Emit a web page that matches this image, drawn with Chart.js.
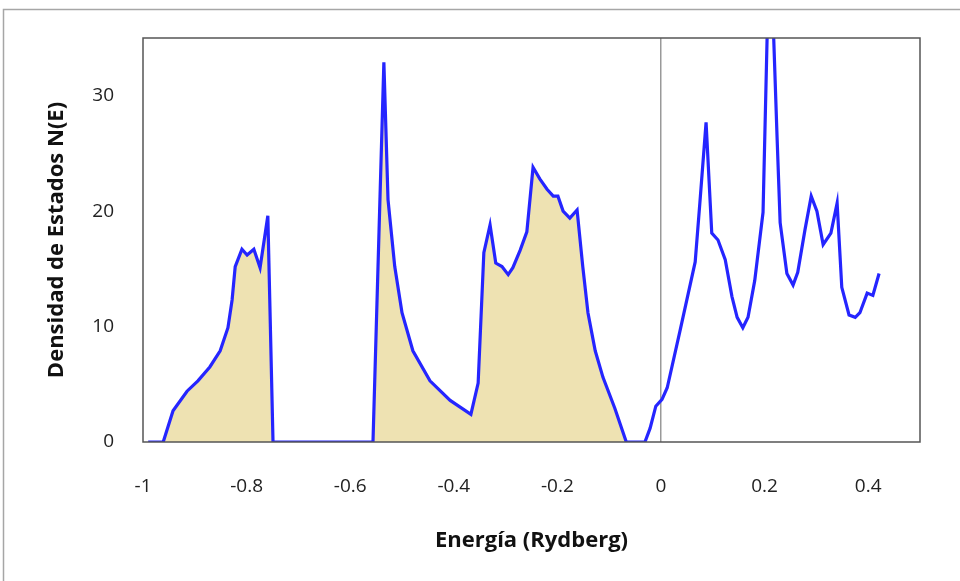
<!DOCTYPE html>
<html lang="es">
<head>
    <meta charset="UTF-8">
    <title>Densidad de Estados</title>
    <script src="https://cdn.jsdelivr.net/npm/chart.js@4.4.0/dist/chart.umd.min.js"></script>
    <style>
        html, body { margin: 0; padding: 0; background: #fff; }
        #wrap { width: 960px; height: 581px; }
    </style>
</head>
<body>
    <div id="wrap"><canvas id="dosChart" width="960" height="581"></canvas></div>

    <script>
    // energia (Rydberg) y densidad de estados
    var energia = [
        -0.990, -0.961, -0.942, -0.915, -0.894, -0.871, -0.851, -0.836, -0.828, -0.822,
        -0.809, -0.799, -0.786, -0.774, -0.759, -0.749, -0.556, -0.535, -0.527, -0.514,
        -0.500, -0.479, -0.446, -0.407, -0.367, -0.353, -0.342, -0.330, -0.319, -0.307,
        -0.295, -0.286, -0.272, -0.259, -0.247, -0.234, -0.220, -0.208, -0.199, -0.189,
        -0.176, -0.162, -0.151, -0.141, -0.127, -0.112, -0.089, -0.067, -0.031, -0.021,
        -0.010, 0.002, 0.012, 0.037, 0.066, 0.075, 0.087, 0.098, 0.110, 0.124,
        0.137, 0.147, 0.158, 0.168, 0.181, 0.197, 0.210, 0.224, 0.230, 0.243,
        0.255, 0.264, 0.278, 0.290, 0.301, 0.313, 0.328, 0.340, 0.349, 0.363,
        0.375, 0.384, 0.398, 0.409, 0.421
    ];
    var densidad = [
        0, 0, 2.7, 4.4, 5.3, 6.5, 7.9, 9.9, 12.3, 15.2,
        16.7, 16.2, 16.7, 15.1, 19.6, 0, 0, 32.9, 21.0, 15.2,
        11.2, 7.9, 5.3, 3.6, 2.4, 5.1, 16.4, 18.8, 15.5, 15.2,
        14.5, 15.1, 16.6, 18.2, 23.8, 22.8, 21.9, 21.3, 21.3, 20.0,
        19.4, 20.1, 15.2, 11.2, 7.9, 5.6, 2.9, 0, 0, 1.2,
        3.1, 3.7, 4.7, 9.7, 15.6, 20.7, 27.7, 18.1, 17.5, 15.8,
        12.6, 10.8, 9.9, 10.8, 14.0, 19.9, 45, 26.5, 19.0, 14.6,
        13.6, 14.7, 18.4, 21.3, 20.0, 17.1, 18.1, 20.7, 13.4, 11.0,
        10.8, 11.2, 12.9, 12.7, 14.6
    ];
    var xTicks = [-1, -0.8, -0.6, -0.4, -0.2, 0, 0.2, 0.4];
    var yTicks = [0, 10, 20, 30];

    var puntos = [];
    for (var i = 0; i < energia.length; i++) {
        puntos.push({x: energia[i], y: densidad[i]});
    }
    // zona ocupada (bandas de valencia) rellena
    var ocupados = puntos.filter(function (p) { return p.x < -0.025; });

    // marcos: borde exterior y borde del area de trazado
    var marcos = {
        id: 'marcos',
        beforeDraw: function (chart) {
            var c = chart.ctx;
            c.save();
            c.fillStyle = '#fff';
            c.fillRect(0, 0, chart.width, chart.height);
            c.strokeStyle = '#a6a6a6';
            c.lineWidth = 1.5;
            c.strokeRect(3.5, 9.5, 1000, 1000);
            c.restore();
        },
        afterDraw: function (chart) {
            var a = chart.chartArea;
            var c = chart.ctx;
            c.save();
            c.strokeStyle = '#555';
            c.lineWidth = 1.5;
            c.strokeRect(a.left, a.top, a.right - a.left, a.bottom - a.top);
            c.restore();
        }
    };

    var fuenteTicks = {family: 'Open Sans', size: 19};
    var fuenteTitulo = {family: 'Open Sans', size: 22, weight: 'bold'};

    new Chart(document.querySelector('#dosChart'), {
        type: 'line',
        data: {
            datasets: [{
                data: puntos,
                borderColor: '#2525ff',
                borderWidth: 3.2,
                pointRadius: 0,
                fill: false,
                tension: 0,
                order: 0
            }, {
                data: ocupados,
                borderWidth: 0,
                borderColor: 'rgba(0,0,0,0)',
                backgroundColor: '#eee2b2',
                pointRadius: 0,
                fill: 'origin',
                tension: 0,
                order: 1
            }]
        },
        options: {
            responsive: false,
            animation: false,
            layout: {padding: {left: 0, right: 40, top: 38, bottom: 0}},
            plugins: {legend: {display: false}, tooltip: {enabled: false}},
            scales: {
                x: {
                    type: 'linear',
                    min: -1,
                    max: 0.5,
                    afterBuildTicks: function (s) {
                        s.ticks = xTicks.map(function (v) { return {value: v}; });
                    },
                    afterFit: function (s) { s.height = 139; },
                    grid: {
                        drawTicks: false,
                        lineWidth: 1.5,
                        color: function (ctx) {
                            return ctx.tick && ctx.tick.value === 0 ? '#999' : 'rgba(0,0,0,0)';
                        }
                    },
                    border: {display: false},
                    ticks: {
                        padding: 33,
                        color: '#222',
                        font: fuenteTicks,
                        maxRotation: 0,
                        callback: function (v) { return String(v); }
                    },
                    title: {
                        display: true,
                        text: 'Energía (Rydberg)',
                        color: '#111',
                        font: fuenteTitulo,
                        padding: {top: 0, bottom: 27}
                    }
                },
                y: {
                    min: 0,
                    max: 35,
                    afterBuildTicks: function (s) {
                        s.ticks = yTicks.map(function (v) { return {value: v}; });
                    },
                    afterFit: function (s) { s.width = 143; },
                    grid: {display: false},
                    border: {display: false},
                    ticks: {
                        padding: 21,
                        color: '#222',
                        font: fuenteTicks
                    },
                    title: {
                        display: true,
                        text: 'Densidad de Estados N(E)',
                        color: '#111',
                        font: fuenteTitulo,
                        padding: {top: 44, bottom: 0}
                    }
                }
            }
        },
        plugins: [marcos]
    });
    </script>
</body>
</html>
